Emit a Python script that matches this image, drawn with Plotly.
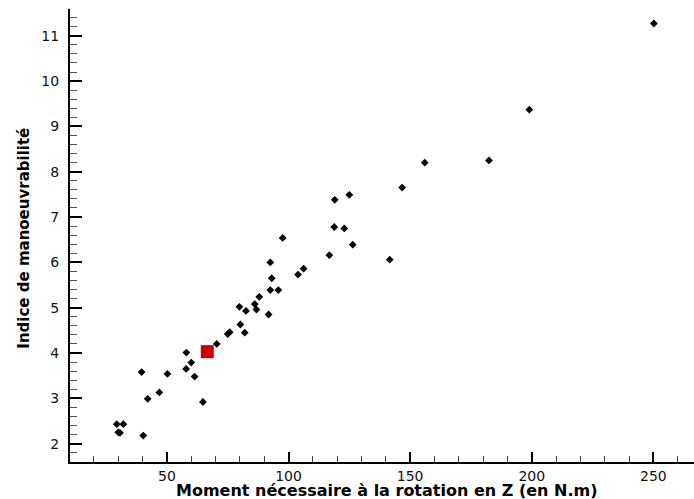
import plotly.graph_objects as go

# Data (moment in N.m, manoeuvrability index)
moment = [29.4, 32.1, 30.0, 30.7, 40.3, 42.1, 46.9, 39.6, 50.2, 58.0,
          60.0, 57.9, 61.4, 64.8, 70.5, 75.0, 75.8, 80.2, 82.0, 79.8,
          82.5, 86.1, 86.8, 88.0, 91.8, 92.5, 95.8, 93.1, 92.5, 97.6,
          103.9, 106.2, 116.8, 118.8, 122.9, 126.4, 119.0, 125.0, 141.6, 146.7,
          156.0, 182.4, 199.0, 250.2]
indice = [2.43, 2.43, 2.25, 2.24, 2.18, 2.99, 3.13, 3.58, 3.54, 4.01,
          3.79, 3.65, 3.48, 2.92, 4.20, 4.42, 4.46, 4.63, 4.45, 5.02,
          4.93, 5.08, 4.96, 5.24, 4.85, 5.39, 5.39, 5.65, 6.00, 6.54,
          5.73, 5.86, 6.16, 6.78, 6.75, 6.39, 7.38, 7.49, 6.06, 7.65,
          8.20, 8.25, 9.37, 11.27]

highlight_moment = [66.6]
highlight_indice = [4.03]

x_title = "Moment nécessaire à la rotation en Z (en N.m)"
y_title = "Indice de manoeuvrabilité"

FONT = "DejaVu Sans, Verdana, sans-serif"

fig = go.Figure()
fig.add_trace(go.Scatter(
    x=moment, y=indice, mode="markers",
    marker=dict(symbol="diamond", size=6, color="black", line=dict(width=0)),
    showlegend=False, hoverinfo="x+y"))
fig.add_trace(go.Scatter(
    x=highlight_moment, y=highlight_indice, mode="markers",
    marker=dict(symbol="square", size=13, color="#cc0000", line=dict(width=0)),
    showlegend=False, hoverinfo="x+y"))

fig.update_layout(
    width=694, height=499,
    margin=dict(l=70, r=0, t=9, b=37),
    plot_bgcolor="white", paper_bgcolor="white",
    font=dict(family=FONT, size=14, color="black"),
    xaxis=dict(
        range=[10.16, 266.7], showgrid=False, zeroline=False,
        showline=True, linewidth=2, linecolor="black",
        ticks="inside", ticklen=10, tickwidth=2, tickcolor="black",
        tick0=0, dtick=50, ticklabelstandoff=0,
        tickfont=dict(family=FONT, size=14, color="#111"),
        minor=dict(ticks="inside", ticklen=6, tickwidth=1, tickcolor="#444", dtick=10, tick0=0),
    ),
    yaxis=dict(
        range=[1.596, 11.59], showgrid=False, zeroline=False,
        showline=True, linewidth=2, linecolor="black",
        ticks="inside", ticklen=12, tickwidth=2, tickcolor="black",
        tick0=0, dtick=1, ticklabelstandoff=6,
        tickfont=dict(family=FONT, size=14, color="#111"),
        minor=dict(ticks="inside", ticklen=7, tickwidth=1, tickcolor="#555", dtick=0.2, tick0=0),
    ),
    annotations=[
        dict(text="<b>" + x_title + "</b>", xref="paper", yref="paper",
             x=0.508, y=-0.063, xanchor="center", yanchor="middle",
             showarrow=False, font=dict(family=FONT, size=16, color="black")),
        dict(text="<b>" + y_title + "</b>", xref="paper", yref="paper",
             x=-0.0737, y=0.493, xanchor="center", yanchor="middle", textangle=-90,
             showarrow=False, font=dict(family=FONT, size=15, color="black")),
    ],
)

fig.write_html("out.html",
               config={"displayModeBar": False},
               post_script="document.body.style.margin='0';document.body.style.padding='0';")
